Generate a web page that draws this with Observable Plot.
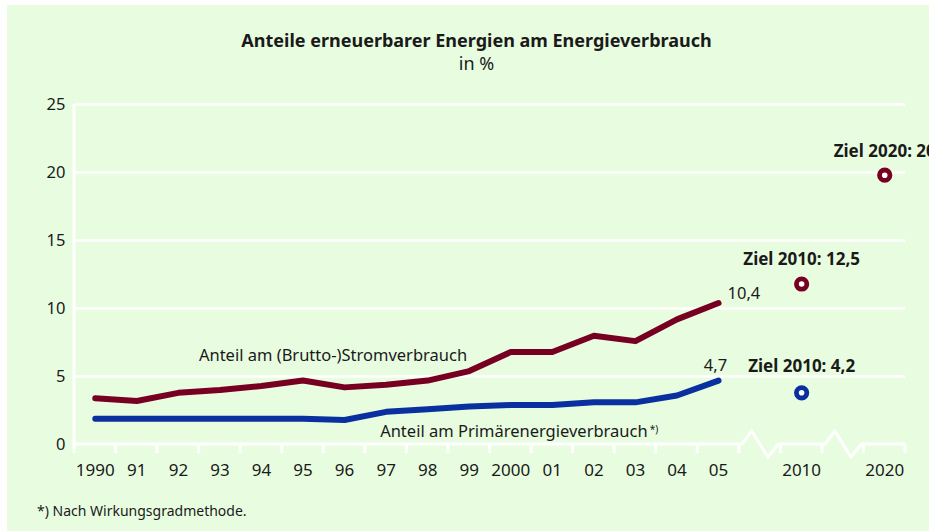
<!DOCTYPE html>
<html>
<head>
<meta charset="utf-8">
<script src="https://cdn.jsdelivr.net/npm/d3@7"></script>
<script src="https://cdn.jsdelivr.net/npm/@observablehq/plot@0.6"></script>
<style>
  html, body { margin: 0; padding: 0; }
  body { background: #ffffff; width: 929px; height: 531px; overflow: hidden; position: relative; font-family: "Noto Sans", sans-serif; color: #1a1a1a; }
  #panel { position: absolute; left: 7px; top: 5px; width: 922px; height: 526px; background: #e8fde0; }
  #title { position: absolute; left: 0; width: 953px; top: 29px; text-align: center; font-weight: bold; font-size: 18px; line-height: 22px; }
  #subtitle { position: absolute; left: 0; width: 953px; top: 52px; text-align: center; font-size: 18px; line-height: 22px; }
  #chart { position: absolute; left: 0; top: 90px; }
  #foot { position: absolute; left: 37px; top: 501px; font-size: 14px; line-height: 20px; }
</style>
</head>
<body>
<div id="panel"></div>
<div id="title">Anteile erneuerbarer Energien am Energieverbrauch</div>
<div id="subtitle">in %</div>
<div id="chart"></div>
<div id="foot">*) Nach Wirkungsgradmethode.</div>
<script>
// ---- data ----
const years = ["1990","1991","1992","1993","1994","1995","1996","1997","1998","1999","2000","2001","2002","2003","2004","2005"];
const stromverbrauch = [3.4, 3.2, 3.8, 4.0, 4.3, 4.7, 4.2, 4.4, 4.7, 5.4, 6.8, 6.8, 8.0, 7.6, 9.2, 10.4];
const primaerenergie = [1.9, 1.9, 1.9, 1.9, 1.9, 1.9, 1.8, 2.4, 2.6, 2.8, 2.9, 2.9, 3.1, 3.1, 3.6, 4.7];
const xCategories = [...years, "gap1", "2010", "gap2", "2020"];
const xTickLabels = ["1990","91","92","93","94","95","96","97","98","99","2000","01","02","03","04","05","","2010","","2020"];
const yTicks = [0, 5, 10, 15, 20, 25];

const zielStromYears = ["2010", "2020"];
const zielStromValues = [11.8, 19.8];
const zielStromLabels = ["Ziel 2010: 12,5", "Ziel 2020: 20"];
const zielPrimYears = ["2010"];
const zielPrimValues = [3.8];
const zielPrimLabels = ["Ziel 2010: 4,2"];

const stromLabel = "Anteil am (Brutto-)Stromverbrauch";
const primLabel = "Anteil am Primärenergieverbrauch";
const primLabelMark = "*)";
const endLabelStrom = "10,4";
const endLabelPrim = "4,7";

const colStrom = "#770022";
const colPrim = "#0a2f9f";
const textCol = "#1a1a1a";

// ---- tables ----
const stromData = years.map((year, i) => ({year, value: stromverbrauch[i]}));
const primData = years.map((year, i) => ({year, value: primaerenergie[i]}));
const zielStrom = zielStromYears.map((year, i) => ({year, value: zielStromValues[i], label: zielStromLabels[i]}));
const zielPrim = zielPrimYears.map((year, i) => ({year, value: zielPrimValues[i], label: zielPrimLabels[i]}));
const tickLabelOf = new Map(xCategories.map((c, i) => [c, xTickLabels[i]]));
const last = years.length - 1;

// white axis lines with break zigzags, drawn from the scales
function axisFrame(index, scales) {
  const x = scales.x, y = scales.y;
  const bw = x.bandwidth();
  const [x0, x1] = x.range();
  const y0 = y(0);
  const g = d3.create("svg:g").attr("fill", "none").attr("stroke", "white").attr("stroke-width", 3);
  g.append("line").attr("x1", x0).attr("x2", x0).attr("y1", y(d3.max(yTicks))).attr("y2", y0 + 1.5);
  const pts = [[x0, y0]];
  for (const c of xCategories) {
    if (c.startsWith("gap")) {
      const s = x(c);
      pts.push([s + bw * 0.08, y0], [s + bw * 0.31, y0 - 13], [s + bw * 0.7, y0 + 13], [s + bw * 0.95, y0]);
    }
  }
  pts.push([x1, y0]);
  g.append("path").attr("d", d3.line()(pts)).attr("stroke-linejoin", "miter");
  const bounds = xCategories.map(c => x(c)).concat([x(xCategories[xCategories.length - 1]) + bw]);
  for (const b of bounds) {
    g.append("line").attr("x1", b).attr("x2", b).attr("y1", y0).attr("y2", y0 + 9);
  }
  return g.node();
}

const chart = Plot.plot({
  width: 929,
  height: 400,
  marginLeft: 74,
  marginRight: 24,
  marginTop: 14,
  marginBottom: 46,
  style: {background: "transparent", overflow: "visible", fontFamily: "Noto Sans", fontSize: "16.5px", color: textCol},
  x: {type: "band", domain: xCategories, padding: 0, round: false, tickSize: 0, tickPadding: 19, tickFormat: d => tickLabelOf.get(d), label: null},
  y: {domain: [0, 25], ticks: yTicks, tickSize: 0, tickPadding: 9, label: null},
  marks: [
    Plot.ruleY(yTicks.filter(d => d > 0), {stroke: "white", strokeWidth: 2.5}),
    axisFrame,
    Plot.line(stromData, {x: "year", y: "value", stroke: colStrom, strokeWidth: 6, strokeLinecap: "round", strokeLinejoin: "round"}),
    Plot.line(primData, {x: "year", y: "value", stroke: colPrim, strokeWidth: 6, strokeLinecap: "round", strokeLinejoin: "round"}),
    Plot.dot(zielStrom, {x: "year", y: "value", r: 5.2, stroke: colStrom, strokeWidth: 4.8, fill: "white"}),
    Plot.dot(zielPrim, {x: "year", y: "value", r: 5.2, stroke: colPrim, strokeWidth: 4.8, fill: "white"}),
    Plot.text(zielStrom, {x: "year", y: "value", text: "label", dy: -24, fontWeight: "bold", fontSize: 17, fill: textCol}),
    Plot.text(zielPrim, {x: "year", y: "value", text: "label", dy: -26, fontWeight: "bold", fontSize: 17, fill: textCol}),
    Plot.text([stromData[last]], {x: "year", y: "value", text: () => endLabelStrom, dx: 9, dy: -9, textAnchor: "start", fill: textCol}),
    Plot.text([primData[last]], {x: "year", y: "value", text: () => endLabelPrim, dx: -3, dy: -15, fill: textCol}),
    Plot.text([stromData[5]], {x: "year", y: "value", text: () => stromLabel, dx: 30, dy: -25, fill: textCol}),
    Plot.text([primData[7]], {x: "year", y: "value", text: () => primLabel, dx: -6, dy: 20, textAnchor: "start", fill: textCol})
  ]
});
document.getElementById("chart").appendChild(chart);
// x tick labels slightly larger
d3.select(chart).selectAll("g[aria-label='x-axis tick label'] text").style("font-size", "17px");
// superscript footnote marker after the primary-energy label
d3.select(chart).selectAll("text").filter(function() { return this.textContent === primLabel; })
  .append("tspan").attr("dy", "-0.45em").attr("font-size", "10px").attr("dx", "2").text(primLabelMark);
</script>
</body>
</html>
